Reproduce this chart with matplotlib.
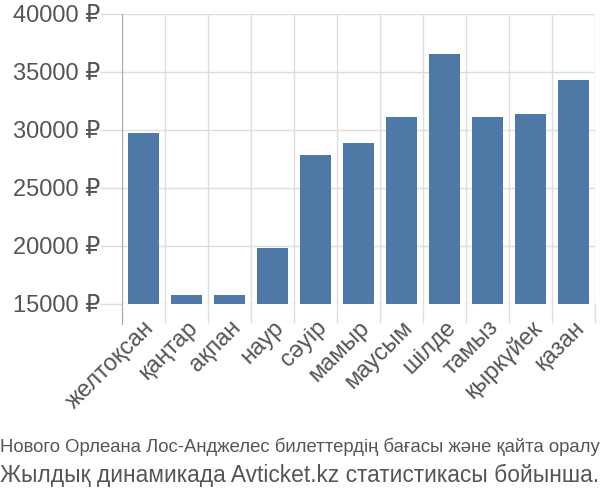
import numpy as np
import matplotlib
matplotlib.use('Agg')
import matplotlib.pyplot as plt
from matplotlib.ticker import FixedLocator, FuncFormatter

# data
months = ['желтоқсан', 'қаңтар', 'ақпан', 'наур', 'сәуір', 'мамыр',
          'маусым', 'шілде', 'тамыз', 'қыркүйек', 'қазан']
prices = [29700, 15750, 15750, 19830, 27820, 28900,
          31090, 36520, 31090, 31350, 34340]
y_ticks = [15000, 20000, 25000, 30000, 35000, 40000]
footer_lines = [
    'Нового Орлеана Лос-Анджелес билеттердің бағасы және қайта оралу',
    'Жылдық динамикада Avticket.kz статистикасы бойынша.',
]

BAR = '#4e78a5'
GRID = '#dddddd'
TEXT = '#555555'
FONT = ['Liberation Sans', 'DejaVu Sans']

W, H = 600, 500
fig = plt.figure(figsize=(W / 100, H / 100), dpi=100)
ax = fig.add_axes([122 / W, 1 - 304 / H, (595 - 122) / W, (304 - 14) / H])

x = np.arange(len(months))
ax.bar(x, prices, width=0.71, color=BAR, zorder=3)

ax.set_xlim(-0.5, len(months) - 0.5)
ax.set_ylim(y_ticks[0], y_ticks[-1])

# y axis
ax.yaxis.set_major_locator(FixedLocator(y_ticks))
ax.yaxis.set_major_formatter(FuncFormatter(lambda v, p: f'{int(v)} ₽'))
ax.tick_params(axis='y', length=16, width=1, color=GRID, pad=0,
               labelsize=17, labelcolor=TEXT)
for lab in ax.get_yticklabels():
    lab.set_family(FONT)
ax.grid(axis='y', color=GRID, linewidth=1, zorder=0)

# x axis: ticks/grid at slot boundaries, labels at centres
ax.set_xticks(x)
ax.set_xticklabels(months, rotation=45, ha='right', rotation_mode='anchor',
                   fontsize=17, color=TEXT, family=FONT)
ax.tick_params(axis='x', which='major', length=0, pad=9)
ax.set_xticks(np.arange(len(months) + 1) - 0.5, minor=True)
ax.tick_params(axis='x', which='minor', length=14, width=1, color=GRID)
ax.grid(axis='x', which='minor', color=GRID, linewidth=1, zorder=0)

for side in ['top', 'right', 'bottom']:
    ax.spines[side].set_visible(False)
ax.spines['left'].set_color('#aaaaaa')
ax.spines['left'].set_bounds(y_ticks[0] - 1700, y_ticks[-1])
ax.spines['left'].set_zorder(4)

fig.text(0.0, 1 - 447 / H, footer_lines[0], ha='left', va='center',
         fontsize=13.35, color=TEXT, family=FONT)
fig.text(0.0, 1 - 475 / H, footer_lines[1], ha='left', va='center',
         fontsize=16.4, color=TEXT, family=FONT)

fig.savefig('out.png', dpi=100)
